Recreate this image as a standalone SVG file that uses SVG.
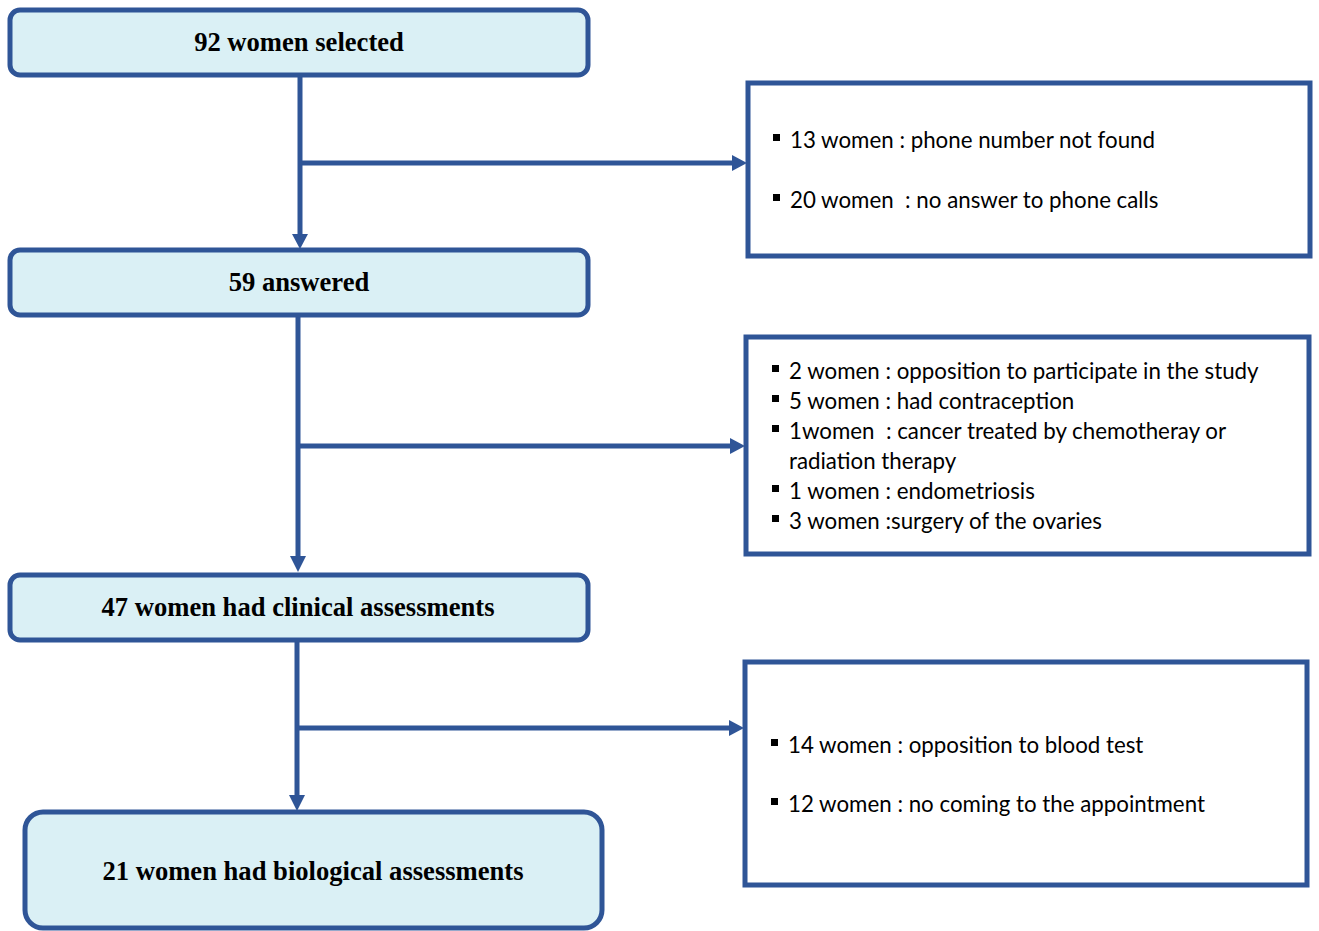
<svg xmlns="http://www.w3.org/2000/svg" width="1319" height="931" viewBox="0 0 1319 931">
<defs>
<style>
.node{fill:#DAF0F5;stroke:#2F5597;stroke-width:5}
.box{fill:#FFFFFF;stroke:#2F5597;stroke-width:5}
.conn{stroke:#2F5597;stroke-width:5;fill:none}
.head{fill:#2F5597}
.t{font-family:"Liberation Serif","Times New Roman",serif;font-weight:bold;font-size:26.6px;fill:#000;text-anchor:middle}
.r{font-family:Lato,"Open Sans","Liberation Sans",sans-serif;font-size:22.3px;fill:#000;white-space:pre}
.b{fill:#000}
</style>
</defs>
<rect width="1319" height="931" fill="#FFFFFF"/>
<g id="connectors">
<line class="conn" x1="300" y1="76" x2="300" y2="236"/>
<polygon class="head" points="292,234 308,234 300,249"/>
<line class="conn" x1="300" y1="163" x2="734" y2="163"/>
<polygon class="head" points="732,155 732,171 747,163"/>
<line class="conn" x1="298" y1="316" x2="298" y2="558"/>
<polygon class="head" points="290,556 306,556 298,572"/>
<line class="conn" x1="298" y1="446" x2="732" y2="446"/>
<polygon class="head" points="730,438 730,454 745,446"/>
<line class="conn" x1="297" y1="641" x2="297" y2="797"/>
<polygon class="head" points="289,795 305,795 297,811"/>
<line class="conn" x1="297" y1="728" x2="731" y2="728"/>
<polygon class="head" points="729,720 729,736 744,728"/>
</g>
<g id="n1">
<rect class="node" x="10" y="10" width="578" height="65" rx="10"/>
<text class="t" x="299" y="51">92 women selected</text>
</g>
<g id="n2">
<rect class="node" x="10" y="250" width="578" height="65" rx="10"/>
<text class="t" x="299" y="291">59 answered</text>
</g>
<g id="n3">
<rect class="node" x="10" y="575" width="578" height="65" rx="10"/>
<text class="t" x="298" y="616">47 women had clinical assessments</text>
</g>
<g id="n4">
<rect class="node" x="25" y="812" width="577" height="116" rx="18"/>
<text class="t" x="313" y="880">21 women had biological assessments</text>
</g>
<g id="e1">
<rect class="box" x="748" y="83" width="562" height="173"/>
<rect class="b" x="773" y="134" width="7" height="7"/>
<text class="r" x="790" y="148">13 women : phone number not found</text>
<rect class="b" x="773" y="194" width="7" height="7"/>
<text class="r" x="790" y="208">20 women  : no answer to phone calls</text>
</g>
<g id="e2">
<rect class="box" x="746" y="337" width="563" height="217"/>
<rect class="b" x="772" y="365" width="7" height="7"/>
<text class="r" x="789" y="379">2 women : opposition to participate in the study</text>
<rect class="b" x="772" y="395" width="7" height="7"/>
<text class="r" x="789" y="409">5 women : had contraception</text>
<rect class="b" x="772" y="425" width="7" height="7"/>
<text class="r" x="789" y="439">1women  : cancer treated by chemotheray or</text>
<text class="r" x="789" y="469">radiation therapy</text>
<rect class="b" x="772" y="485" width="7" height="7"/>
<text class="r" x="789" y="499">1 women : endometriosis</text>
<rect class="b" x="772" y="515" width="7" height="7"/>
<text class="r" x="789" y="529">3 women :surgery of the ovaries</text>
</g>
<g id="e3">
<rect class="box" x="745" y="662" width="562" height="223"/>
<rect class="b" x="771" y="739" width="7" height="7"/>
<text class="r" x="788" y="753">14 women : opposition to blood test</text>
<rect class="b" x="771" y="798" width="7" height="7"/>
<text class="r" x="788" y="812">12 women : no coming to the appointment</text>
</g>
</svg>
